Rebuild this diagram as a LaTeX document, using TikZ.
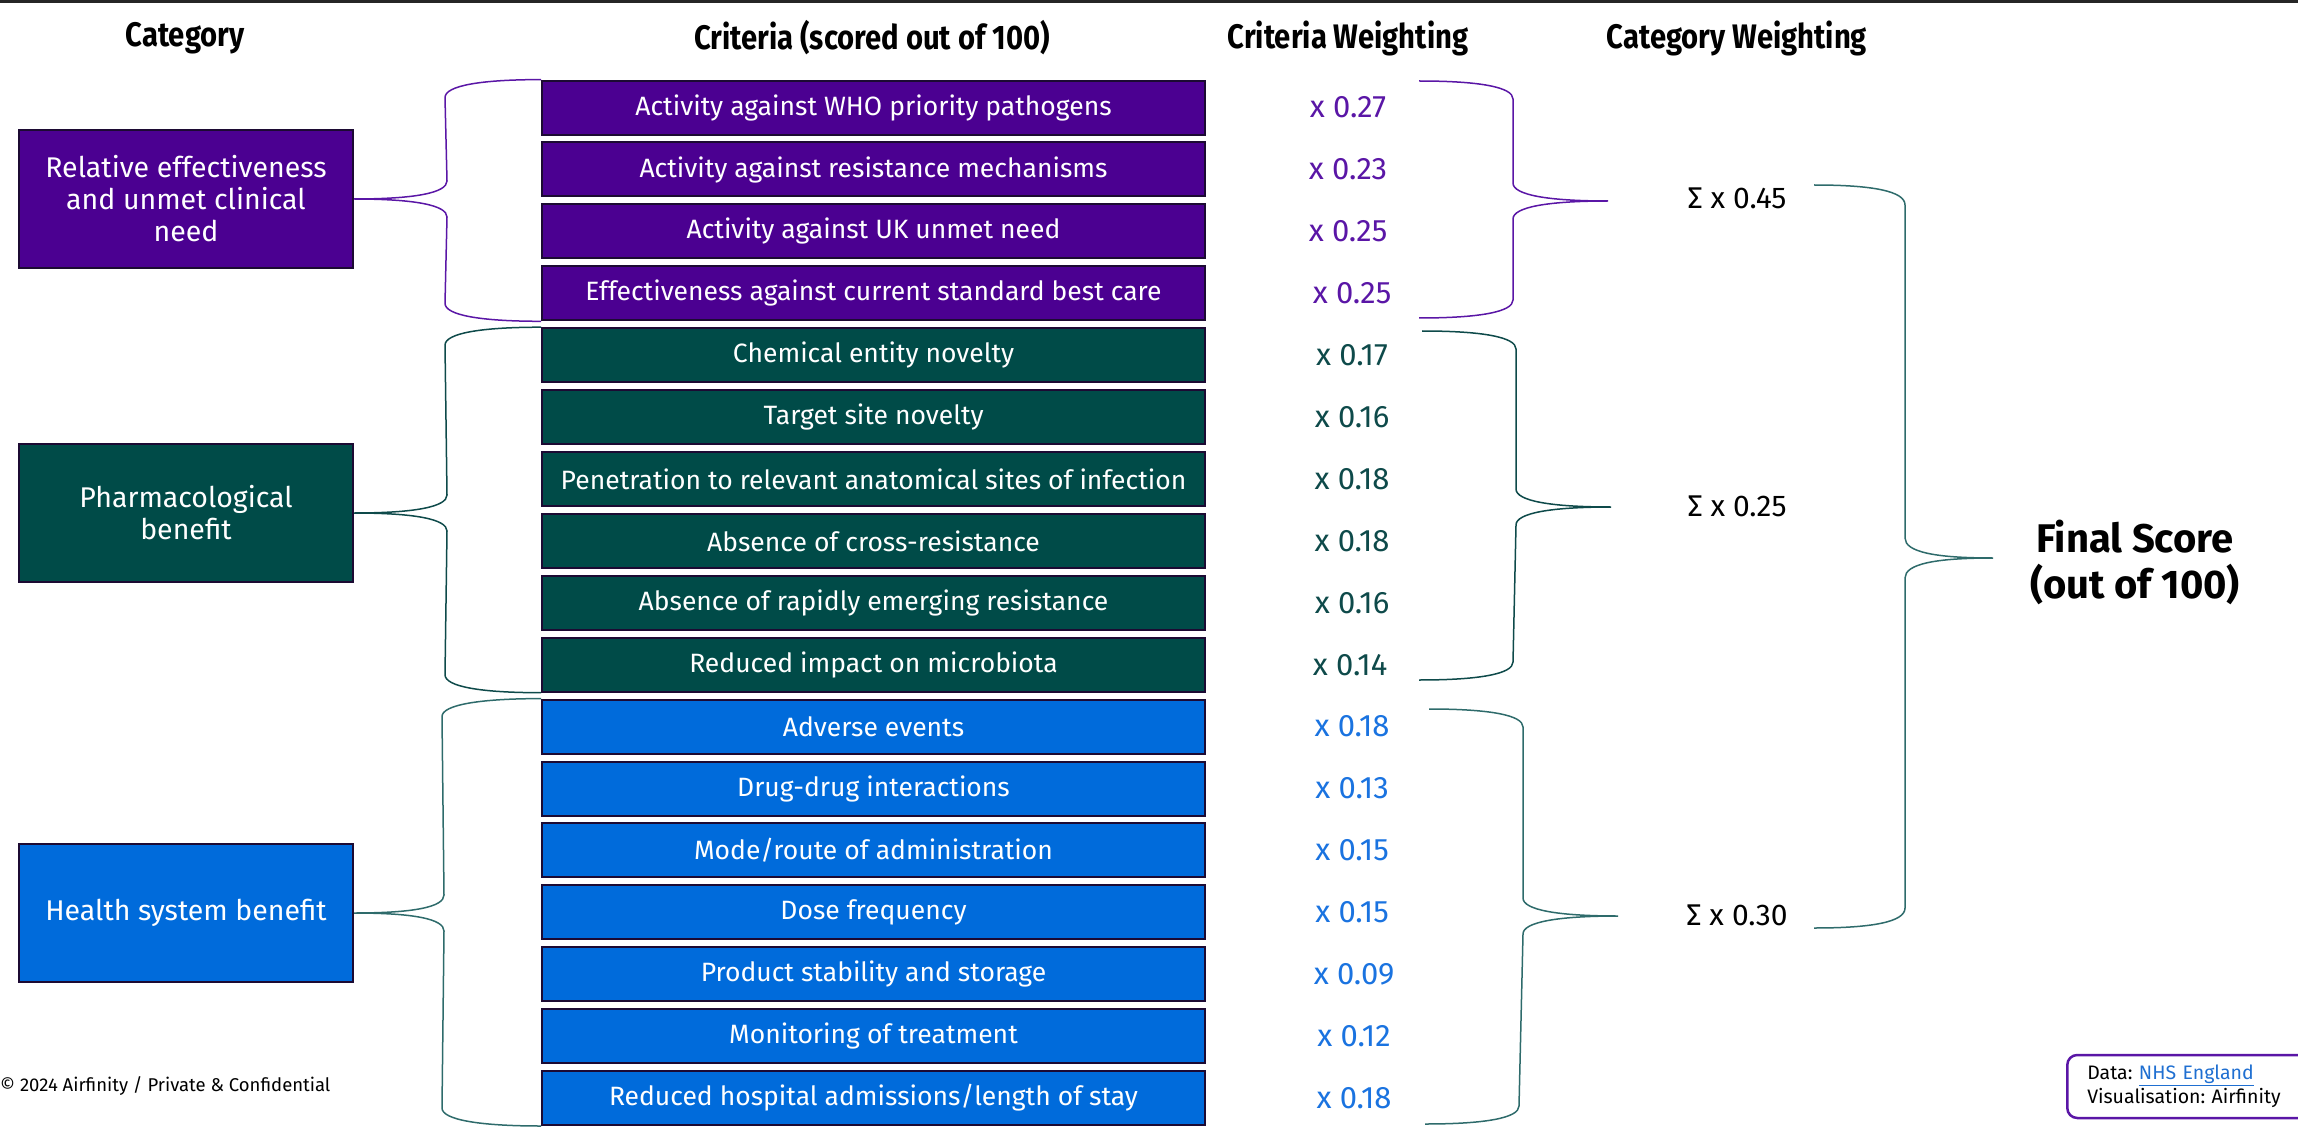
\documentclass[tikz,border=0pt]{standalone}
\usepackage{fontspec}
\setmainfont{Fira Sans}
\newfontfamily\headfont{Fira Sans}[FakeStretch=0.86]
\usepackage{xcolor}
\usetikzlibrary{positioning, calc}
\definecolor{catpurple}{HTML}{4B0091}
\definecolor{catgreen}{HTML}{004B48}
\definecolor{catblue}{HTML}{006BDB}
\definecolor{edgedark}{HTML}{1C0A33}
\definecolor{wpurple}{HTML}{5A16A6}
\definecolor{wgreen}{HTML}{0E4A4A}
\definecolor{wblue}{HTML}{1A73E0}
\definecolor{tealline}{HTML}{2E6B6B}
\definecolor{linkblue}{HTML}{1F6FD1}
\frenchspacing

\begin{document}
\begin{tikzpicture}[x = 1pt, y = -1pt,
	cat/.style = {draw = edgedark, line width = 2pt, minimum width = 334pt, minimum height = 138pt, align = center, text = white, font = \fontsize{28.5}{32}\selectfont},
	crit/.style = {draw = edgedark, line width = 2pt, minimum width = 663pt, minimum height = 54pt, text = white, font = \fontsize{26.5}{30}\selectfont, node distance = 61.9pt},
	wt/.style = {font = \fontsize{31}{36}\selectfont},
	head/.style = {font = \headfont\bfseries\fontsize{34}{40}\selectfont},
	brace/.style = {line width = 1.5pt}]
	\useasboundingbox (0,0) rectangle (2298,1131);
	\draw[line width = 3pt, black!85] (0,1.5) -- (2298,1.5);

	\node[head](hcat) at (185,38){Category};
	\node[head](hcrit) at (872,38){Criteria (scored out of 100)};
	\node[head](hcw) at (1348,38){Criteria Weighting};
	\node[head](hkw) at (1737,38){Category Weighting};

	\node[cat, fill = catpurple](k1) at (186,199){Relative effectiveness\\and unmet clinical\\need};
	\node[cat, fill = catgreen](k2) at (186,513){Pharmacological\\benefit};
	\node[cat, fill = catblue](k3) at (186,913){Health system benefit};

	\node[crit, fill = catpurple](c1) at (873.5,107.6){Activity against WHO priority pathogens};
	\node[crit, fill = catpurple](c2)[below of = c1]{Activity against resistance mechanisms};
	\node[crit, fill = catpurple](c3)[below of = c2]{Activity against UK unmet need};
	\node[crit, fill = catpurple](c4)[below of = c3]{Effectiveness against current standard best care};
	\node[crit, fill = catgreen](c5)[below of = c4]{Chemical entity novelty};
	\node[crit, fill = catgreen](c6)[below of = c5]{Target site novelty};
	\node[crit, fill = catgreen](c7)[below of = c6]{Penetration to relevant anatomical sites of infection};
	\node[crit, fill = catgreen](c8)[below of = c7]{Absence of cross-resistance};
	\node[crit, fill = catgreen](c9)[below of = c8]{Absence of rapidly emerging resistance};
	\node[crit, fill = catgreen](c10)[below of = c9]{Reduced impact on microbiota};
	\node[crit, fill = catblue](c11)[below of = c10]{Adverse events};
	\node[crit, fill = catblue](c12)[below of = c11]{Drug-drug interactions};
	\node[crit, fill = catblue](c13)[below of = c12]{Mode/route of administration};
	\node[crit, fill = catblue](c14)[below of = c13]{Dose frequency};
	\node[crit, fill = catblue](c15)[below of = c14]{Product stability and storage};
	\node[crit, fill = catblue](c16)[below of = c15]{Monitoring of treatment};
	\node[crit, fill = catblue](c17)[below of = c16]{Reduced hospital admissions/length of stay};

	\node[wt, text = wpurple](w1) at (c1 -| 1348,0){x 0.27};
	\node[wt, text = wpurple](w2) at (c2 -| 1348,0){x 0.23};
	\node[wt, text = wpurple](w3) at (c3 -| 1348,0){x 0.25};
	\node[wt, text = wpurple](w4) at (c4 -| 1352,0){x 0.25};
	\node[wt, text = wgreen](w5) at (c5 -| 1352,0){x 0.17};
	\node[wt, text = wgreen](w6) at (c6 -| 1352,0){x 0.16};
	\node[wt, text = wgreen](w7) at (c7 -| 1352,0){x 0.18};
	\node[wt, text = wgreen](w8) at (c8 -| 1352,0){x 0.18};
	\node[wt, text = wgreen](w9) at (c9 -| 1352,0){x 0.16};
	\node[wt, text = wgreen](w10) at (c10 -| 1350,0){x 0.14};
	\node[wt, text = wblue](w11) at (c11 -| 1352,0){x 0.18};
	\node[wt, text = wblue](w12) at (c12 -| 1352,0){x 0.13};
	\node[wt, text = wblue](w13) at (c13 -| 1352,0){x 0.15};
	\node[wt, text = wblue](w14) at (c14 -| 1352,0){x 0.15};
	\node[wt, text = wblue](w15) at (c15 -| 1354,0){x 0.09};
	\node[wt, text = wblue](w16) at (c16 -| 1354,0){x 0.12};
	\node[wt, text = wblue](w17) at (c17 -| 1354,0){x 0.18};

	\node[font = \fontsize{30}{35}\selectfont](s1) at (1737,198){Σ x 0.45};
	\node[font = \fontsize{30}{35}\selectfont](s2) at (1737,506){Σ x 0.25};
	\node[font = \fontsize{30}{35}\selectfont](s3) at (1737,915){Σ x 0.30};
	\node[font = \bfseries\fontsize{40}{46}\selectfont, align = center](fs) at (2135,562){Final Score\\(out of 100)};

	\node[anchor = west, inner sep = 0pt, font = \fontsize{18.5}{22}\selectfont](copy) at (0,1086){© 2024 Airfinity / Private \& Confidential};
	\node[draw = wpurple, line width = 2.5pt, rounded corners = 10pt, anchor = west, text width = 230pt, align = left, inner xsep = 20pt, minimum height = 63pt, font = \fontsize{19.5}{24}\selectfont](src) at (2066,1086.5){Data: \textcolor{linkblue}{\underline{NHS England}}\\Visualisation: Airfinity};

	\coordinate(ra1) at (1419,81);
	\coordinate(rb1) at (1419,318);
	\coordinate(rt1) at (1608,201);
	\coordinate(ra2) at (1422,331);
	\coordinate(rb2) at (1419,680);
	\coordinate(rt2) at (1611,507);
	\coordinate(ra3) at (1429,709);
	\coordinate(rb3) at (1425,1124);
	\coordinate(rt3) at (1618,916);
	\coordinate(fa) at (1814,185);
	\coordinate(fb) at (1814,928);
	\coordinate(ft) at (1993,558);

	\draw[brace, wpurple](c1.north west) .. controls +(-60,0) and +(0,-12) .. ($(c1.north west)+(-96,18)$) -- ($(k1.east)+(93,-18)$) .. controls +(0,12) and +(60,0) .. (k1.east) .. controls +(60,0) and +(0,-12) .. ($(k1.east)+(93,18)$) -- ($(c4.south west)+(-96,-18)$) .. controls +(0,12) and +(-60,0) .. (c4.south west);
	\draw[brace, wgreen](c5.north west) .. controls +(-60,0) and +(0,-12) .. ($(c5.north west)+(-96,18)$) -- ($(k2.east)+(93,-18)$) .. controls +(0,12) and +(60,0) .. (k2.east) .. controls +(60,0) and +(0,-12) .. ($(k2.east)+(93,18)$) -- ($(c10.south west)+(-96,-18)$) .. controls +(0,12) and +(-60,0) .. (c10.south west);
	\draw[brace, tealline](c11.north west) .. controls +(-60,0) and +(0,-12) .. ($(c11.north west)+(-99,18)$) -- ($(k3.east)+(90,-18)$) .. controls +(0,12) and +(60,0) .. (k3.east) .. controls +(60,0) and +(0,-12) .. ($(k3.east)+(90,18)$) -- ($(c17.south west)+(-99,-18)$) .. controls +(0,12) and +(-60,0) .. (c17.south west);

	\draw[brace, wpurple](ra1) .. controls +(60,0) and +(0,-12) .. ($(ra1)+(94,18)$) -- ($(rt1)+(-95,-18)$) .. controls +(0,12) and +(-60,0) .. (rt1) .. controls +(-60,0) and +(0,-12) .. ($(rt1)+(-95,18)$) -- ($(rb1)+(94,-18)$) .. controls +(0,12) and +(60,0) .. (rb1);
	\draw[brace, wgreen](ra2) .. controls +(60,0) and +(0,-12) .. ($(ra2)+(94,18)$) -- ($(rt2)+(-95,-18)$) .. controls +(0,12) and +(-60,0) .. (rt2) .. controls +(-60,0) and +(0,-12) .. ($(rt2)+(-95,18)$) -- ($(rb2)+(94,-18)$) .. controls +(0,12) and +(60,0) .. (rb2);
	\draw[brace, tealline](ra3) .. controls +(60,0) and +(0,-12) .. ($(ra3)+(94,18)$) -- ($(rt3)+(-95,-18)$) .. controls +(0,12) and +(-60,0) .. (rt3) .. controls +(-60,0) and +(0,-12) .. ($(rt3)+(-95,18)$) -- ($(rb3)+(94,-18)$) .. controls +(0,12) and +(60,0) .. (rb3);
	\draw[brace, tealline](fa) .. controls +(58,0) and +(0,-14) .. ($(fa)+(91,20)$) -- ($(ft)+(-88,-20)$) .. controls +(0,14) and +(-58,0) .. (ft) .. controls +(-58,0) and +(0,-14) .. ($(ft)+(-88,20)$) -- ($(fb)+(91,-20)$) .. controls +(0,14) and +(58,0) .. (fb);

\end{tikzpicture}
\end{document}
